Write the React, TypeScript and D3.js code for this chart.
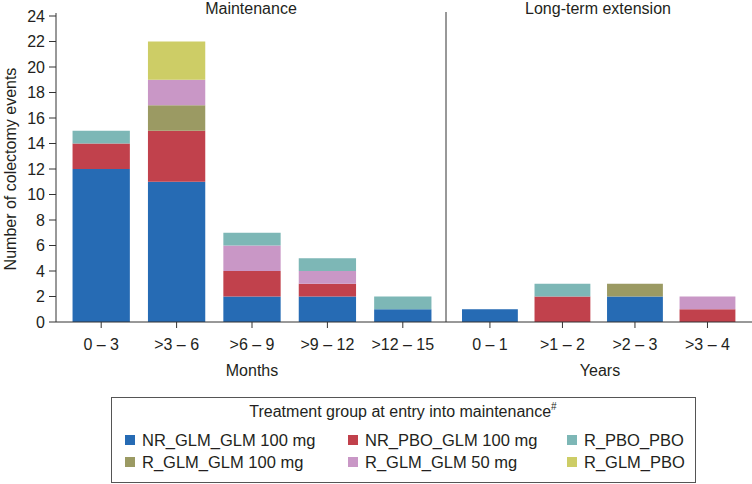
import React from "react";
import * as d3 from "d3";

const seriesNames = [
  "NR_GLM_GLM 100 mg",
  "NR_PBO_GLM 100 mg",
  "R_GLM_GLM 100 mg",
  "R_GLM_GLM 50 mg",
  "R_PBO_PBO",
  "R_GLM_PBO",
];
const seriesColors = ["#266bb4", "#c1414c", "#9b9a63", "#c997c6", "#7db7b6", "#cdcd66"];
// legend display order (indices into seriesNames)
const legendOrder = [0, 1, 4, 2, 3, 5];

const maintCats = ["0 – 3", ">3 – 6", ">6 – 9", ">9 – 12", ">12 – 15"];
const ltCats = ["0 – 1", ">1 – 2", ">2 – 3", ">3 – 4"];

const maintNRGLM = [12, 11, 2, 2, 1];
const maintNRPBO = [2, 4, 2, 1, 0];
const maintRGLM100 = [0, 2, 0, 0, 0];
const maintRGLM50 = [0, 2, 2, 1, 0];
const maintRPBO = [1, 0, 1, 1, 1];
const maintRGLMPBO = [0, 3, 0, 0, 0];

const ltNRGLM = [1, 0, 2, 0];
const ltNRPBO = [0, 2, 0, 1];
const ltRGLM100 = [0, 0, 1, 0];
const ltRGLM50 = [0, 0, 0, 1];
const ltRPBO = [0, 1, 0, 0];
const ltRGLMPBO = [0, 0, 0, 0];

const yTicks = [0, 2, 4, 6, 8, 10, 12, 14, 16, 18, 20, 22, 24];

const FONT = "'Liberation Sans', Arial, Helvetica, sans-serif";
const TXT = "#231f20";

function buildStack(cats: string[], arrs: number[][]) {
  const rows = cats.map((c, i) => {
    const r: any = { cat: c };
    seriesNames.forEach((s, j) => (r[s] = arrs[j][i]));
    return r;
  });
  return d3.stack<any>().keys(seriesNames)(rows);
}

export default function App() {
  const W = 752;
  const H = 484;
  const y = d3.scaleLinear().domain([0, 24]).range([322, 16]);
  const xM = d3
    .scaleBand<string>()
    .domain(maintCats)
    .range([63.5, 440.5])
    .paddingInner(0.24)
    .paddingOuter(0.12);
  const xL = d3
    .scaleBand<string>()
    .domain(ltCats)
    .range([453.3, 744.1])
    .paddingInner(0.23)
    .paddingOuter(0.12);

  const stM = buildStack(maintCats, [maintNRGLM, maintNRPBO, maintRGLM100, maintRGLM50, maintRPBO, maintRGLMPBO]);
  const stL = buildStack(ltCats, [ltNRGLM, ltNRPBO, ltRGLM100, ltRGLM50, ltRPBO, ltRGLMPBO]);

  const renderBars = (st: any[], x: d3.ScaleBand<string>, key: string) =>
    st.map((layer, li) =>
      layer.map((d: any, i: number) => {
        const h = y(d[0]) - y(d[1]);
        if (h <= 0) return null;
        return (
          <rect
            key={`${key}-${li}-${i}`}
            x={x(d.data.cat)}
            y={y(d[1])}
            width={x.bandwidth()}
            height={h}
            fill={seriesColors[li]}
          />
        );
      })
    );

  const renderXTicks = (cats: string[], x: d3.ScaleBand<string>, key: string) =>
    cats.map((c) => {
      const cx = (x(c) as number) + x.bandwidth() / 2;
      return (
        <g key={`${key}-${c}`}>
          <line x1={cx} x2={cx} y1={322} y2={328} stroke="#333" strokeWidth={1} />
          <text x={cx} y={350} textAnchor="middle" fontSize={16} fill={TXT}>
            {c}
          </text>
        </g>
      );
    });

  const legCols = [125, 348, 567];
  const legRows = [446, 468];

  return (
    <svg
      width={W}
      height={H}
      style={{ position: "absolute", left: 0, top: 0, fontFamily: FONT }}
    >
      <rect x={0} y={0} width={W} height={H} fill="#fff" />
      {renderBars(stM, xM, "m")}
      {renderBars(stL, xL, "l")}

      <line x1={56} x2={56} y1={13} y2={322} stroke="#333" strokeWidth={1} />
      <line x1={56} x2={752} y1={322} y2={322} stroke="#333" strokeWidth={1} />
      <line x1={446} x2={446} y1={12} y2={322} stroke="#333" strokeWidth={1} />

      {yTicks.map((t) => (
        <g key={`yt-${t}`}>
          <line x1={49} x2={56} y1={y(t)} y2={y(t)} stroke="#333" strokeWidth={1} />
          <text x={45} y={y(t) + 5.5} textAnchor="end" fontSize={16} fill={TXT}>
            {t}
          </text>
        </g>
      ))}
      <text
        transform={`translate(16,169) rotate(-90)`}
        textAnchor="middle"
        fontSize={16}
        fill={TXT}
      >
        Number of colectomy events
      </text>

      {renderXTicks(maintCats, xM, "xm")}
      {renderXTicks(ltCats, xL, "xl")}

      <text x={251} y={14} textAnchor="middle" fontSize={16} fill={TXT}>
        Maintenance
      </text>
      <text x={598} y={14} textAnchor="middle" fontSize={16} fill={TXT}>
        Long-term extension
      </text>
      <text x={252} y={376} textAnchor="middle" fontSize={16} fill={TXT}>
        Months
      </text>
      <text x={600} y={376} textAnchor="middle" fontSize={16} fill={TXT}>
        Years
      </text>

      <rect x={111.5} y={397.5} width={584} height={85} fill="none" stroke="#555" strokeWidth={1} />
      <text x={403} y={417} textAnchor="middle" fontSize={16} fill={TXT}>
        Treatment group at entry into maintenance
        <tspan fontSize={10} dy={-7}>#</tspan>
      </text>
      {legendOrder.map((si, i) => {
        const col = i % 3;
        const row = Math.floor(i / 3);
        const sx = legCols[col];
        const by = legRows[row];
        return (
          <g key={`leg-${si}`}>
            <rect x={sx} y={by - 11} width={10} height={10} fill={seriesColors[si]} />
            <text x={sx + 17} y={by} fontSize={16.5} fill={TXT}>
              {seriesNames[si]}
            </text>
          </g>
        );
      })}
    </svg>
  );
}
